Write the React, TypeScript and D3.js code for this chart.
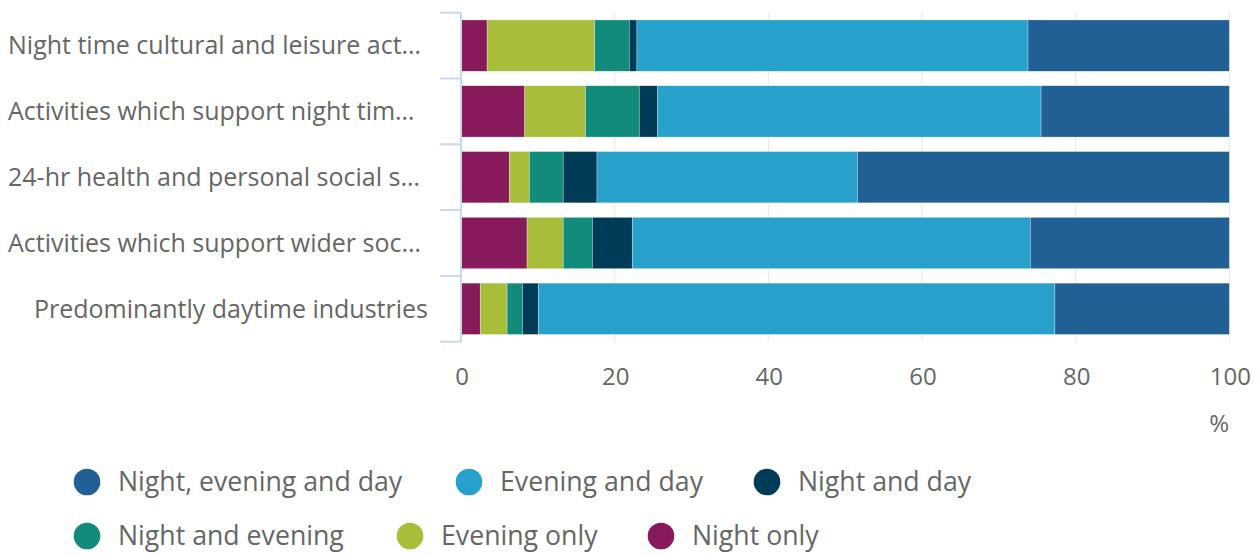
import React, { useEffect, useRef } from 'react';
import * as d3 from 'd3';

const categories = [
  'Night time cultural and leisure act…',
  'Activities which support night tim…',
  '24-hr health and personal social s…',
  'Activities which support wider soc…',
  'Predominantly daytime industries',
];

const seriesNames = [
  'Night only',
  'Evening only',
  'Night and evening',
  'Night and day',
  'Evening and day',
  'Night, evening and day',
];

const nightOnly = [3.4, 8.3, 6.3, 8.6, 2.5];
const eveningOnly = [14.0, 7.9, 2.6, 4.7, 3.5];
const nightAndEvening = [4.5, 7.0, 4.4, 3.8, 2.0];
const nightAndDay = [1.0, 2.4, 4.4, 5.2, 2.1];
const eveningAndDay = [50.9, 49.9, 33.9, 51.8, 67.2];
const nightEveningAndDay = [26.2, 24.5, 48.4, 25.9, 22.7];

const xTicks = [0, 20, 40, 60, 80, 100];

const colors = ['#871a5b', '#a8bd3a', '#118c7b', '#003c57', '#27a0cc', '#206095'];

// legend order as shown in the picture
const legendOrder = [5, 4, 3, 2, 1, 0];

const W = 1259;
const H = 555;
const FONT = '"Open Sans", "Noto Sans", sans-serif';

export default function App() {
  const ref = useRef<SVGSVGElement | null>(null);

  useEffect(() => {
    const svg = d3.select(ref.current);
    svg.selectAll('*').remove();

    const seriesValues = [nightOnly, eveningOnly, nightAndEvening, nightAndDay, eveningAndDay, nightEveningAndDay];
    const rows = categories.map((c, i) => {
      const r: any = { category: c };
      seriesNames.forEach((s, j) => (r[s] = seriesValues[j][i]));
      return r;
    });

    const x = d3.scaleLinear().domain([0, 100]).range([461, 1229.3]);
    const y = d3.scaleBand<string>()
      .domain(categories)
      .range([12.7, 341.7])
      .paddingInner(0.22)
      .paddingOuter(0.11);

    const stack = d3.stack<any>().keys(seriesNames);
    const stacked = stack(rows);

    // grid
    svg.append('g')
      .selectAll('line')
      .data(xTicks.filter(t => t > 0))
      .enter()
      .append('line')
      .attr('x1', d => x(d))
      .attr('x2', d => x(d))
      .attr('y1', 12.7)
      .attr('y2', 341.7)
      .attr('stroke', '#e6e6e6')
      .attr('stroke-width', 1);

    // bars
    svg.append('g')
      .selectAll('g')
      .data(stacked)
      .enter()
      .append('g')
      .attr('fill', (d, i) => colors[i])
      .selectAll('rect')
      .data(d => d)
      .enter()
      .append('rect')
      .attr('x', d => x(d[0]))
      .attr('y', d => y(d.data.category) as number)
      .attr('width', d => x(d[1]) - x(d[0]))
      .attr('height', y.bandwidth())
      .attr('stroke', '#ffffff')
      .attr('stroke-width', 0.5)
      .attr('stroke-opacity', 0.6);

    // category axis
    const step = y.step();
    const bounds = categories.map((c, i) => 12.7 + i * step).concat([341.7]);
    const axis = svg.append('g');
    axis.append('line')
      .attr('x1', 461).attr('x2', 461)
      .attr('y1', 12.7).attr('y2', 341.7)
      .attr('stroke', '#ccd6eb').attr('stroke-width', 2);
    axis.selectAll('line.tick')
      .data(bounds)
      .enter()
      .append('line')
      .attr('class', 'tick')
      .attr('x1', 440).attr('x2', 461)
      .attr('y1', d => d).attr('y2', d => d)
      .attr('stroke', '#ccd6eb').attr('stroke-width', 2);
    axis.selectAll('text')
      .data(categories)
      .enter()
      .append('text')
      .attr('x', 428)
      .attr('y', d => (y(d) as number) + y.bandwidth() / 2)
      .attr('dy', '0.35em')
      .attr('text-anchor', 'end')
      .attr('font-family', FONT)
      .attr('font-size', 25)
      .attr('fill', '#666666')
      .text(d => d)
      .each(function (d) {
        // truncated labels sit left-aligned in their box
        if (d.endsWith('…')) {
          d3.select(this).attr('x', 8).attr('text-anchor', 'start');
        }
      });

    // value axis labels
    svg.append('g')
      .selectAll('text')
      .data(xTicks)
      .enter()
      .append('text')
      .attr('x', d => x(d) + 1)
      .attr('y', 385)
      .attr('text-anchor', 'middle')
      .attr('font-family', FONT)
      .attr('font-size', 24)
      .attr('fill', '#666666')
      .text(d => d);

    svg.append('text')
      .attr('x', 1229)
      .attr('y', 432)
      .attr('text-anchor', 'end')
      .attr('font-family', FONT)
      .attr('font-size', 24)
      .attr('fill', '#666666')
      .text('%');

    // legend
    const legendPos = [
      [87, 482], [469, 482], [767, 482],
      [87, 536], [410, 536], [661, 536],
    ];
    const lg = svg.append('g')
      .selectAll('g')
      .data(legendOrder)
      .enter()
      .append('g')
      .attr('transform', (d, i) => `translate(${legendPos[i][0]},${legendPos[i][1]})`);
    lg.append('circle')
      .attr('r', 13.3)
      .attr('fill', d => colors[d]);
    lg.append('text')
      .attr('x', 31)
      .attr('dy', '0.35em')
      .attr('font-family', FONT)
      .attr('font-size', 26.7)
      .attr('fill', '#666666')
      .text(d => seriesNames[d]);
  }, []);

  return (
    <svg
      ref={ref}
      width={W}
      height={H}
      style={{ position: 'absolute', left: 0, top: 0, background: '#ffffff' }}
    />
  );
}
